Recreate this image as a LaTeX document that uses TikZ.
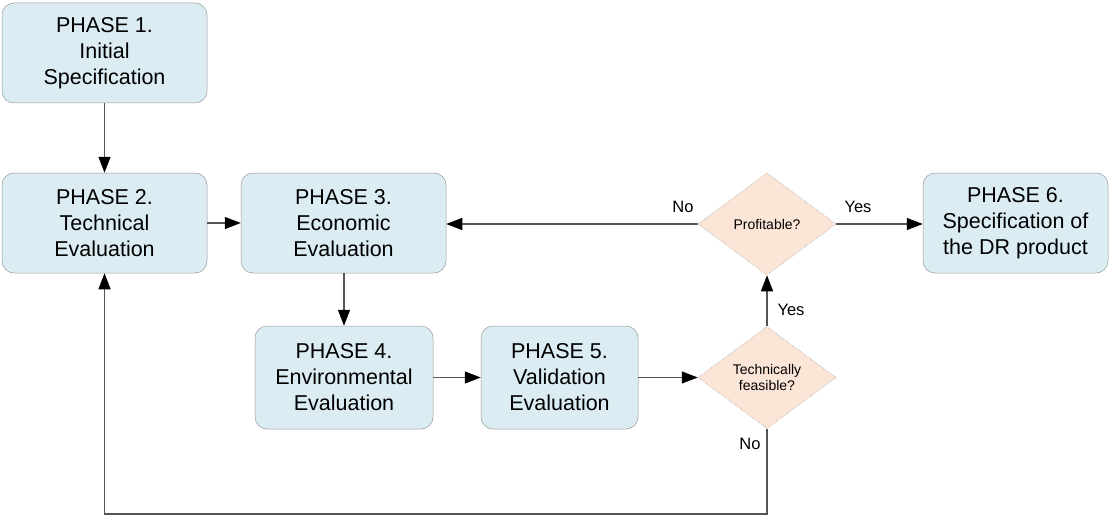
\documentclass[tikz,border=0pt]{standalone}
\usepackage{fontspec}
\setmainfont{Liberation Sans}
\usetikzlibrary{shapes.geometric,arrows.meta}
\definecolor{boxfill}{HTML}{DBEDF3}
\definecolor{decfill}{HTML}{FBE5D6}
\definecolor{edgegray}{HTML}{555555}
\tikzset{
  phase/.style={draw=gray!80, line width=0.5pt, fill=boxfill, rounded corners=12pt,
    align=center, inner sep=0pt, font=\fontsize{21.5}{26}\selectfont},
  decision/.style={diamond, draw=gray!80, densely dotted, line width=0.5pt, fill=decfill,
    inner sep=0pt, minimum width=138pt, minimum height=102pt, align=center,
    font=\fontsize{14}{16}\selectfont},
  conn/.style={draw=edgegray, line width=1.3pt, -{Triangle[length=16pt,width=12pt,fill=black,color=black]}},
  lbl/.style={font=\fontsize{16.5}{19}\selectfont, inner sep=0pt},
}
\begin{document}
\begin{tikzpicture}[x=1pt,y=-1pt]
\useasboundingbox (0,0) rectangle (1110,516);
\node[phase, minimum width=205pt, minimum height=100pt] (p1) at (104.5,53) {PHASE 1.\\Initial\\Specification};
\node[phase, minimum width=205pt, minimum height=100pt] (p2) at (104.5,223) {PHASE 2.\\Technical\\Evaluation};
\node[phase, minimum width=205pt, minimum height=100pt] (p3) at (343.5,223) {PHASE 3.\\Economic\\Evaluation};
\node[phase, minimum width=178pt, minimum height=103pt] (p4) at (344,377.5) {PHASE 4.\\Environmental\\Evaluation};
\node[phase, minimum width=157pt, minimum height=103pt] (p5) at (559.5,377.5) {PHASE 5.\\Validation\\Evaluation};
\node[phase, minimum width=185pt, minimum height=100pt] (p6) at (1015.5,223) {PHASE 6.\\Specification of\\the DR product};
\node[decision] (prof) at (767,224) {Profitable?};
\node[decision] (tech) at (767,377.5) {Technically\\feasible?};
\coordinate (c1) at (767,514);
\coordinate (c2) at (104.5,514);

\draw[conn] (p1) -- (p2);
\draw[conn] (p2) -- (p3);
\draw[conn] (p3.south -| p4.north) -- (p4);
\draw[conn] (p4) -- (p5);
\draw[conn] (p5) -- (tech);
\draw[conn] (tech) -- (prof);
\draw[conn] (prof) -- (p3.east |- prof.west);
\draw[conn] (prof) -- (p6.west |- prof.east);
\draw[conn] (tech.south) -- (c1) -- (c2) -- (p2.south);

\node[lbl] (no1) at (683,207) {No};
\node[lbl] (yes1) at (858,207) {Yes};
\node[lbl] (yes2) at (791,310) {Yes};
\node[lbl] (no2) at (750,444) {No};
\end{tikzpicture}
\end{document}
